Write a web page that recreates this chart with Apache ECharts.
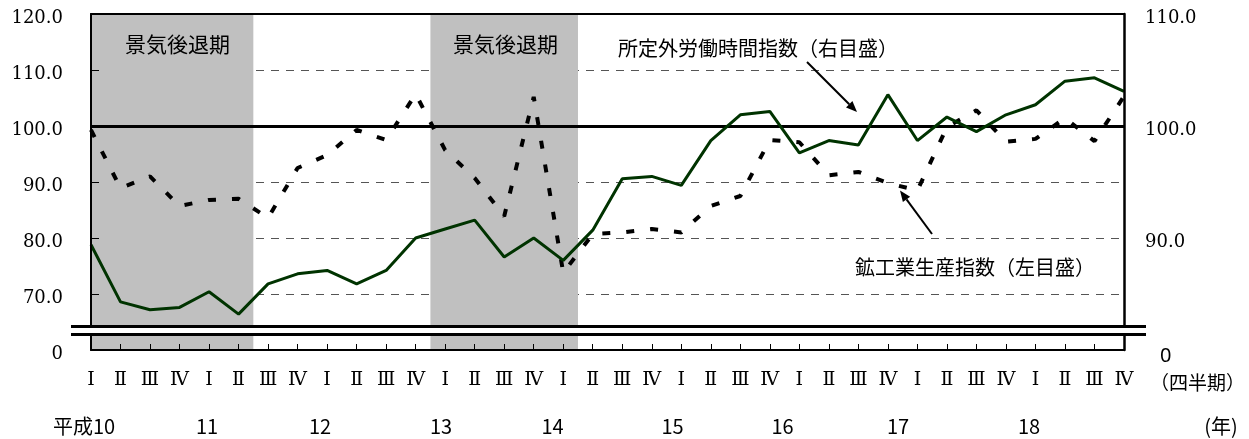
<!DOCTYPE html>
<html><head><meta charset="utf-8">
<script src="https://cdn.jsdelivr.net/npm/echarts/dist/echarts.min.js"></script>
<style>html,body{margin:0;padding:0;background:#fff}#c{width:1249px;height:439px}</style>
</head><body><div id="c"></div>
<script>
// ---- data ----
const quarterNames = ['Ⅰ','Ⅱ','Ⅲ','Ⅳ'];
const years = ['平成10','11','12','13','14','15','16','17','18'];
const quarters = [];
years.forEach(() => quarterNames.forEach(q => quarters.push(q)));
// 鉱工業生産指数（左目盛）
const production = [99.3, 88.9, 91.0, 85.7, 86.8, 87.0, 83.6, 92.5, 94.8, 99.3, 97.5, 105.7,
                    95.7, 90.7, 83.9, 105.2, 73.8, 80.7, 81.0, 81.6, 81.0, 85.7, 87.5, 97.5,
                    97.1, 91.2, 91.8, 89.8, 88.5, 99.8, 102.8, 97.2, 97.7, 101.4, 97.3, 105.3];
// 所定外労働時間指数（右目盛）
const overtime = [89.4, 84.3, 83.6, 83.8, 85.2, 83.2, 85.9, 86.8, 87.1, 85.9, 87.1, 90.0,
                  90.8, 91.6, 88.3, 90.0, 88.0, 90.7, 95.3, 95.5, 94.7, 98.7, 101.0, 101.3,
                  97.6, 98.7, 98.3, 102.8, 98.7, 100.8, 99.5, 101.0, 101.9, 104.0, 104.3, 103.1];
// 景気後退期 (quarter index boundaries)
const recessions = [[0, 5.5], [11.5, 16.5]];
const leftTicks = [60, 70, 80, 90, 100, 110, 120];
const rightTicks = [80, 90, 100, 110];

// ---- layout ----
const yearX = [84, 207, 320, 441, 552.5, 672.5, 782.5, 898, 1029];
const CJK = '"Noto Sans CJK JP", "Noto Sans", sans-serif';
const SERIF = '"DejaVu Serif", "Liberation Serif", serif';

const chart = echarts.init(document.getElementById('c'), null, {renderer: 'canvas'});

function arrow(x1, y1, x2, y2) {
  const ang = Math.atan2(y2 - y1, x2 - x1), L = 11, W = 4.5;
  const bx = x2 - L * Math.cos(ang), by = y2 - L * Math.sin(ang);
  const px = -Math.sin(ang) * W, py = Math.cos(ang) * W;
  return [
    {type: 'line', z: 100, shape: {x1, y1, x2: bx, y2: by}, style: {stroke: '#000', lineWidth: 2}},
    {type: 'polygon', z: 100, shape: {points: [[x2, y2], [bx + px, by + py], [bx - px, by - py]]}, style: {fill: '#000'}}
  ];
}

function txt(text, x, y, size, align, family) {
  return {type: 'text', z: 100, x, y, style: {text, font: size + 'px ' + (family || CJK), fill: '#000', align, verticalAlign: 'middle'}};
}

const graphics = [
  // axis break
  {type: 'rect', z: 100, shape: {x: 71, y: 327.5, width: 1075, height: 6}, style: {fill: '#fff'}},
  {type: 'line', z: 100, shape: {x1: 71, y1: 326.5, x2: 1146, y2: 326.5}, style: {stroke: '#000', lineWidth: 3}},
  {type: 'line', z: 100, shape: {x1: 71, y1: 334.5, x2: 1146, y2: 334.5}, style: {stroke: '#000', lineWidth: 3}},
  txt('景気後退期', 177.5, 44, 21, 'center'),
  txt('景気後退期', 505.5, 44, 21, 'center'),
  txt('所定外労働時間指数（右目盛）', 618, 48, 20, 'left'),
  txt('鉱工業生産指数（左目盛）', 855, 267, 20, 'left'),
  txt('（四半期）', 1150, 383, 19, 'left'),
  txt('(年)', 1221, 426, 20, 'center'),
  txt('0', 1160, 356, 20, 'left', '"Noto Sans", sans-serif')
].concat(arrow(807, 62, 857, 112), arrow(932, 234, 900, 190.5));

years.forEach((y, i) => graphics.push(txt(y, yearX[i], 426, 20, 'center')));

const idx = quarters.map((_, i) => i);

const yLabel = {show: true, fontFamily: SERIF, fontSize: 18, color: '#000', verticalAlign: 'top', lineHeight: 8};

chart.setOption({
  animation: false,
  backgroundColor: '#fff',
  grid: {left: 91, right: 125, top: 14, bottom: 89, containLabel: false, outerBoundsMode: 'none'},
  xAxis: [
    {type: 'value', min: 0, max: quarters.length - 1, interval: 1, position: 'bottom', z: 10,
     axisLine: {show: true, onZero: false, lineStyle: {color: '#000', width: 2}},
     axisTick: {show: true, inside: true, length: 6, lineStyle: {color: '#000', width: 1}},
     axisLabel: {show: true, margin: 21, fontFamily: SERIF, fontSize: 19, color: '#000',
                 formatter: v => quarters[v] || ''},
     splitLine: {show: false}},
    {type: 'value', min: 0, max: quarters.length - 1, position: 'top', z: 10,
     axisLine: {show: true, onZero: false, lineStyle: {color: '#000', width: 2}},
     axisTick: {show: false}, axisLabel: {show: false}, splitLine: {show: false}}
  ],
  yAxis: [
    {type: 'value', min: leftTicks[0], max: leftTicks[leftTicks.length - 1], interval: 10, position: 'left', z: 0,
     axisLine: {show: false}, axisTick: {show: false},
     axisLabel: Object.assign({}, yLabel, {margin: 28, formatter: v => v === leftTicks[0] ? '0' : v.toFixed(1)}),
     splitLine: {show: true, lineStyle: {color: '#555', width: 1, type: [8, 7]}}},
    {type: 'value', min: rightTicks[0], max: rightTicks[rightTicks.length - 1], interval: 10, position: 'right', z: 10,
     axisLine: {show: true, onZero: false, lineStyle: {color: '#000', width: 2.5}}, axisTick: {show: false},
     axisLabel: Object.assign({}, yLabel, {margin: 21, formatter: v => v === rightTicks[0] ? '' : v.toFixed(1)}),
     splitLine: {show: false}},
    {type: 'value', min: leftTicks[0], max: leftTicks[leftTicks.length - 1], interval: 10, position: 'left', z: 10,
     axisLine: {show: true, onZero: false, lineStyle: {color: '#000', width: 2}},
     axisTick: {show: true, inside: true, length: 8, lineStyle: {color: '#000', width: 1}},
     axisLabel: {show: false}, splitLine: {show: false}}
  ],
  series: [
    {type: 'line', name: 'recession', xAxisIndex: 0, yAxisIndex: 0, data: [], silent: true, z: 1,
     markArea: {silent: true, z: 1, itemStyle: {color: '#c0c0c0', opacity: 1},
       data: recessions.map(r => [{xAxis: r[0], yAxis: 120}, {xAxis: r[1], yAxis: 60}])}},
    {type: 'line', name: 'base', xAxisIndex: 0, yAxisIndex: 0, data: [], silent: true, z: 2,
     markLine: {silent: true, z: 2, symbol: ['none', 'none'], label: {show: false},
       lineStyle: {color: '#000', width: 3, type: 'solid'}, data: [{yAxis: 100}]}},
    {type: 'line', name: '鉱工業生産指数(左目盛)', xAxisIndex: 0, yAxisIndex: 0, z: 3,
     data: idx.map(i => [i, production[i]]), symbol: 'none', smooth: false,
     lineStyle: {color: '#000', width: 4, type: [8, 16], cap: 'butt'}},
    {type: 'line', name: '所定外労働時間指数(右目盛)', xAxisIndex: 0, yAxisIndex: 1, z: 4,
     data: idx.map(i => [i, overtime[i]]), symbol: 'none', smooth: false,
     lineStyle: {color: '#003300', width: 3}}
  ],
  graphic: graphics
});
</script></body></html>
